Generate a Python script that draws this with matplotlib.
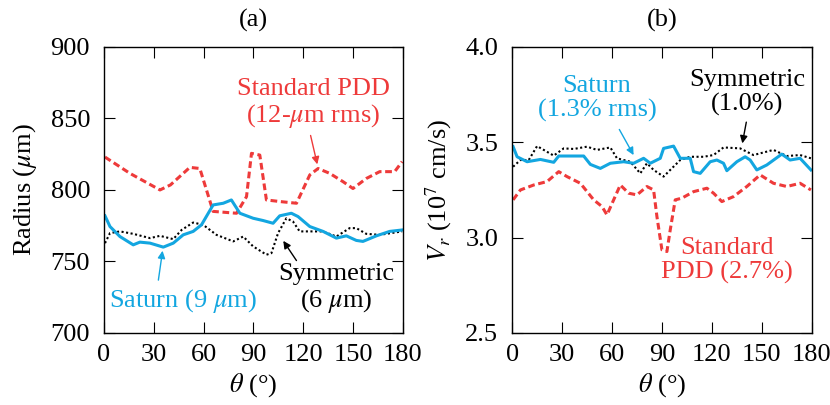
import matplotlib
matplotlib.use("Agg")
import matplotlib.pyplot as plt

plt.rcParams.update({
    "font.family": ["Liberation Serif", "DejaVu Serif"],
    "mathtext.fontset": "stix",
    "font.size": 19,
    "axes.linewidth": 1.0,
    "xtick.direction": "in",
    "ytick.direction": "in",
    "xtick.top": True,
    "ytick.right": True,
    "xtick.major.size": 8,
    "ytick.major.size": 8,
    "xtick.major.pad": 8,
    "ytick.major.pad": 10,
})

RED = "#ee3a3a"
BLUE = "#13a6e0"

# panel (a): radius (um) vs theta
std_a_theta = [0.6, 15.6, 33.7, 40, 51.7, 57.7, 65.7, 79.8, 85.8, 88.8, 93.8, 97.8, 105.8,
               115.9, 123.9, 128.9, 135.9, 143.9, 149.9, 157.9, 166, 175, 179.5]
std_a_val = [823, 811.6, 800, 803.5, 815.8, 815, 785, 783.7, 795.3, 825.6, 824.4, 793, 791.9,
             790.7, 810.5, 815, 811.6, 805.8, 801, 808, 812.8, 812.8, 819.8]

sat_a_theta = [0.6, 3.6, 9.6, 17.6, 21.6, 27.7, 35.7, 41.7, 47.7, 53.7, 58.7, 65.7, 71.8,
               76.7, 81.8, 89.8, 95.8, 101.8, 105.8, 112.8, 116.8, 123.9, 131.9, 139.9,
               145.9, 151.9, 155.9, 164, 172, 179.5]
sat_a_val = [781.9, 774.4, 767.4, 761.6, 763.5, 762.8, 760, 762.8, 768.6, 771, 775.6, 789.5,
             790.7, 793, 783.7, 780.2, 778.6, 776.7, 781.9, 783.7, 781.4, 774.4, 771, 766.3,
             767.9, 764.7, 764, 767.9, 771, 772]

sym_a_theta = [0.6, 3.6, 9.6, 17.6, 27.7, 33.7, 41.7, 46.7, 53.7, 59.7, 67.7, 77.8, 83.8,
               89.8, 97.8, 100.8, 104.8, 109.8, 113.8, 117.8, 125.9, 131.9, 139.9, 147.9,
               151.9, 157.9, 166, 179.5]
sym_a_val = [762.8, 769.8, 771, 769.3, 766.3, 767.9, 765.6, 772, 777.2, 775.6, 768.6, 764,
             767.4, 760.5, 754.7, 755.8, 769.8, 780.2, 777.9, 771, 771, 771, 767.4, 773.3,
             773.3, 769.3, 768.6, 771]

# panel (b): V_r (1e7 cm/s) vs theta
sat_b_theta = [0.6, 3, 9, 17, 25, 28, 43, 47, 53, 59, 67, 73, 79, 83, 89, 91, 97, 101, 107,
               109, 113, 119, 123, 127, 129, 135, 140, 143, 147, 153, 162, 167, 173, 179.5]
sat_b_val = [3.477, 3.424, 3.398, 3.41, 3.395, 3.428, 3.428, 3.384, 3.363, 3.39, 3.398, 3.39,
             3.416, 3.39, 3.416, 3.468, 3.48, 3.416, 3.416, 3.346, 3.337, 3.398, 3.407, 3.39,
             3.351, 3.398, 3.424, 3.407, 3.355, 3.381, 3.438, 3.407, 3.416, 3.355]

sym_b_theta = [0.6, 5, 10, 15, 21, 25, 31, 37, 45, 51, 59, 63, 71, 77, 81, 85, 91, 95, 101,
               107, 115, 121, 127, 137, 145, 157, 165, 173, 179.5]
sym_b_val = [3.372, 3.407, 3.407, 3.48, 3.45, 3.43, 3.468, 3.465, 3.477, 3.46, 3.473, 3.416,
             3.398, 3.337, 3.39, 3.355, 3.32, 3.355, 3.407, 3.424, 3.424, 3.433, 3.473, 3.468,
             3.433, 3.46, 3.428, 3.433, 3.416]

std_b_theta = [0.6, 5, 13, 21, 28, 33, 41, 49, 54, 57, 61, 65, 70, 75, 81, 85, 87, 90, 93,
               95, 98, 102, 109, 117, 121, 126, 133, 141, 149, 157, 165, 173, 179.5]
std_b_val = [3.198, 3.25, 3.276, 3.294, 3.346, 3.32, 3.285, 3.198, 3.163, 3.119, 3.198, 3.276,
             3.233, 3.224, 3.268, 3.25, 3.11, 2.936, 2.927, 3.041, 3.198, 3.207, 3.241, 3.259,
             3.233, 3.189, 3.215, 3.268, 3.329, 3.285, 3.268, 3.285, 3.25]

xticks = [0, 30, 60, 90, 120, 150, 180]
arrow = dict(arrowstyle="-|>", lw=1, mutation_scale=11)

fig = plt.figure(figsize=(8.3, 4.05), dpi=100)
ax_a = fig.add_axes([0.1253, 0.178, 0.3602, 0.706])
ax_b = fig.add_axes([0.617, 0.178, 0.361, 0.706])

ax_a.plot(std_a_theta, std_a_val, color=RED, lw=2.2, ls=(0, (2.2, 1.2)))
ax_a.plot(sym_a_theta, sym_a_val, color="black", lw=1.5, ls=(0, (1, 1.2)))
ax_a.plot(sat_a_theta, sat_a_val, color=BLUE, lw=2.2)
ax_a.set_xlim(0, 180)
ax_a.set_ylim(700, 900)
ax_a.set_xticks(xticks)
ax_a.set_yticks([700, 750, 800, 850, 900])
ax_a.set_xlabel(r"$\theta$ (°)", labelpad=4)
ax_a.set_ylabel(r"Radius ($\mu$m)", labelpad=8)
ax_a.set_title("(a)", fontsize=19, pad=15)

ax_a.text(126, 860, "Standard PDD\n(12-$\\mu$m rms)", color=RED, ha="center", va="center",
          linespacing=1.1)
ax_a.annotate("", xy=(128.8, 816), xytext=(124, 840),
              arrowprops=dict(arrow, color=RED))
ax_a.text(47.6, 722, "Saturn (9 $\\mu$m)", color=BLUE, ha="center", va="center")
ax_a.annotate("", xy=(35.5, 759.4), xytext=(32.5, 735),
              arrowprops=dict(arrow, color=BLUE))
ax_a.text(140, 731, "Symmetric\n(6 $\\mu$m)", color="black", ha="center", va="center",
          linespacing=1.1)
ax_a.annotate("", xy=(107, 766), xytext=(116.8, 749),
              arrowprops=dict(arrow, color="black"))

ax_b.plot(std_b_theta, std_b_val, color=RED, lw=2.2, ls=(0, (2.2, 1.2)))
ax_b.plot(sym_b_theta, sym_b_val, color="black", lw=1.5, ls=(0, (1, 1.2)))
ax_b.plot(sat_b_theta, sat_b_val, color=BLUE, lw=2.2)
ax_b.set_xlim(0, 180)
ax_b.set_ylim(2.5, 4.0)
ax_b.set_xticks(xticks)
ax_b.set_yticks([2.5, 3.0, 3.5, 4.0])
ax_b.set_xlabel(r"$\theta$ (°)", labelpad=4)
ax_b.set_ylabel(r"$V_r$ (10$^7$ cm/s)", labelpad=8)
ax_b.set_title("(b)", fontsize=19, pad=15)

ax_b.text(51, 3.73, "Saturn\n(1.3% rms)", color=BLUE, ha="center", va="center",
          linespacing=1.1)
ax_b.annotate("", xy=(73.8, 3.42), xytext=(63.6, 3.58),
              arrowprops=dict(arrow, color=BLUE))
ax_b.text(141, 3.76, "Symmetric\n(1.0%)", color="black", ha="center", va="center",
          linespacing=1.1)
ax_b.annotate("", xy=(138, 3.48), xytext=(141, 3.62),
              arrowprops=dict(arrow, color="black"))
ax_b.text(129, 2.88, "Standard\nPDD (2.7%)", color=RED, ha="center", va="center",
          linespacing=1.1)

fig.savefig("out.png", dpi=100)
